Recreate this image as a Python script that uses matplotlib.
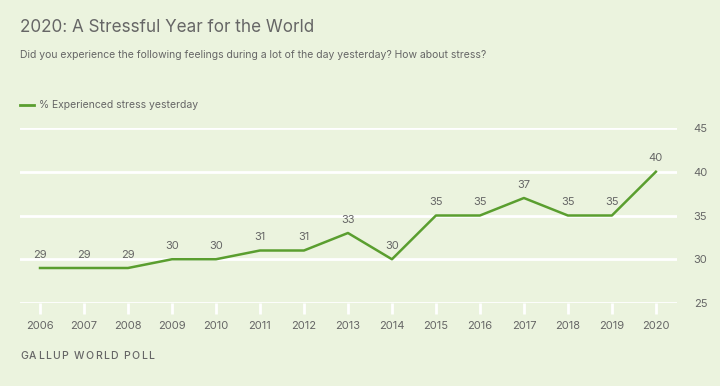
import matplotlib
matplotlib.use("Agg")
import matplotlib.pyplot as plt

plt.rcParams['font.family'] = ['Inter', 'DejaVu Sans']

years = [2006, 2007, 2008, 2009, 2010, 2011, 2012, 2013, 2014, 2015, 2016, 2017, 2018, 2019, 2020]
stress = [29, 29, 29, 30, 30, 31, 31, 33, 30, 35, 35, 37, 35, 35, 40]
yticks = [25, 30, 35, 40, 45]

bg = '#EBF3DE'
green = '#5A9E2F'
grey = '#666666'

fig = plt.figure(figsize=(7.2, 3.86), dpi=100, facecolor=bg)
ax = fig.add_axes([20/720, 1-303/386, 657/720, 175/386], facecolor=bg)

for y in yticks:
    ax.axhline(y, color='white', lw=2, zorder=1)

ax.plot(years, stress, color=green, lw=1.8, zorder=3)
for x, v in zip(years, stress):
    ax.annotate(str(v), (x, v), xytext=(0, 6), textcoords='offset points',
                ha='center', va='bottom', fontsize=8, color=grey)

ax.set_xlim(2005.545, 2020.48)
ax.set_ylim(25, 45)
ax.set_xticks(years)
ax.set_xticklabels([str(y) for y in years])
ax.yaxis.tick_right()
ax.set_yticks(yticks)
ax.tick_params(axis='x', length=8, width=2, color='white', labelcolor=grey, labelsize=8, pad=5)
ax.tick_params(axis='y', length=0, labelcolor=grey, labelsize=8, pad=12)
for s in ax.spines.values():
    s.set_visible(False)

fig.text(20/720, 1-27/386, '2020: A Stressful Year for the World', fontsize=12.3,
         color=grey, va='center', ha='left')
fig.text(20/720, 1-55/386, 'Did you experience the following feelings during a lot of the day yesterday? How about stress?',
         fontsize=7.5, color=grey, va='center', ha='left')
fig.lines.append(plt.Line2D([20/720, 34/720], [1-105/386, 1-105/386], color=green, lw=2,
                            transform=fig.transFigure))
fig.text(39/720, 1-105/386, '% Experienced stress yesterday', fontsize=7.5, color=grey,
         va='center', ha='left')

# footer, letters spread out a little
footer = 'GALLUP WORLD POLL'
fx = 20
for ch in footer:
    t = fig.text(fx/720, 1-356/386, ch, fontsize=7.5, color=grey, weight='medium',
                 va='center', ha='left')
    w = t.get_window_extent(renderer=fig.canvas.get_renderer()).width
    if ch == ' ':
        w = 3
    fx += w + 1.3

fig.savefig('out.png', dpi=100, facecolor=bg)
